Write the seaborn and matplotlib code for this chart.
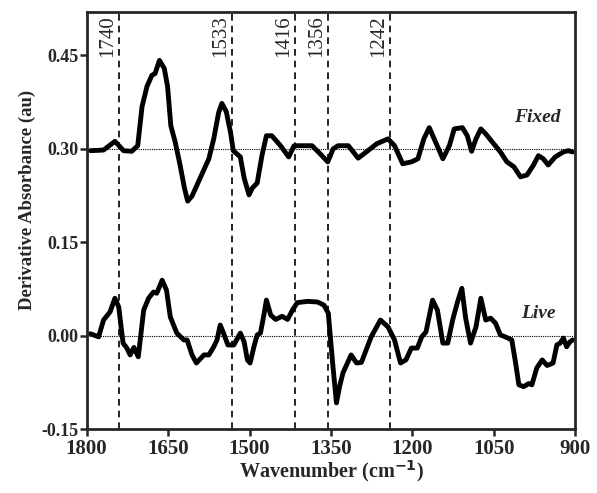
import numpy as np
import pandas as pd
import matplotlib
matplotlib.use("Agg")
import matplotlib.pyplot as plt
import seaborn as sns

# ---------------------------------------------------------
# DATA
# ---------------------------------------------------------
fixed_wn = [1793, 1769, 1748, 1732, 1717, 1706, 1698, 1689, 1680, 1674, 1666, 1657,
            1651, 1645, 1637, 1628, 1620, 1614, 1606, 1591, 1575, 1566, 1557, 1551,
            1543, 1535, 1530, 1517, 1510, 1501, 1495, 1486, 1477, 1469, 1459, 1443,
            1428, 1418, 1406, 1385, 1370, 1356, 1346, 1337, 1318, 1300, 1282, 1266,
            1245, 1233, 1218, 1202, 1190, 1179, 1169, 1160, 1144, 1132, 1123, 1108,
            1099, 1091, 1083, 1074, 1065, 1053, 1038, 1026, 1013, 1001, 989, 977,
            968, 959, 950, 937, 922, 913, 905]
fixed_abs = [0.297, 0.298, 0.312, 0.297, 0.296, 0.305, 0.368, 0.400, 0.418, 0.421, 0.442, 0.429,
             0.400, 0.337, 0.311, 0.274, 0.237, 0.216, 0.224, 0.253, 0.284, 0.316, 0.358, 0.373,
             0.360, 0.326, 0.297, 0.287, 0.253, 0.226, 0.237, 0.245, 0.290, 0.321, 0.321, 0.305,
             0.287, 0.305, 0.305, 0.305, 0.292, 0.279, 0.300, 0.305, 0.305, 0.285, 0.297, 0.308,
             0.316, 0.305, 0.276, 0.279, 0.284, 0.316, 0.334, 0.316, 0.284, 0.305, 0.332, 0.334,
             0.321, 0.296, 0.316, 0.332, 0.324, 0.311, 0.295, 0.279, 0.271, 0.255, 0.258, 0.274,
             0.289, 0.284, 0.274, 0.287, 0.295, 0.297, 0.295]

live_wn = [1793, 1778, 1769, 1757, 1748, 1741, 1733, 1726, 1720, 1713, 1705, 1695,
           1686, 1677, 1671, 1661, 1653, 1646, 1634, 1621, 1615, 1606, 1598, 1584,
           1575, 1566, 1560, 1554, 1548, 1540, 1529, 1517, 1510, 1504, 1499, 1492,
           1486, 1480, 1473, 1469, 1461, 1452, 1440, 1430, 1421, 1412, 1393, 1375,
           1363, 1355, 1347, 1340, 1334, 1328, 1313, 1303, 1294, 1276, 1259, 1245,
           1233, 1222, 1212, 1202, 1191, 1183, 1175, 1163, 1154, 1144, 1135, 1126,
           1117, 1109, 1102, 1093, 1083, 1074, 1065, 1056, 1047, 1038, 1029, 1017,
           1010, 1004, 995, 986, 980, 971, 961, 952, 941, 934, 928, 922, 916, 910, 905]
live_abs = [0.003, -0.002, 0.025, 0.038, 0.060, 0.046, -0.012, -0.020, -0.031, -0.019, -0.034, 0.041,
            0.060, 0.070, 0.068, 0.089, 0.073, 0.030, 0.004, -0.007, -0.007, -0.031, -0.044, -0.031,
            -0.031, -0.018, -0.007, 0.017, 0.004, -0.015, -0.015, 0.004, -0.010, -0.039, -0.044, -0.018,
            0.001, 0.004, 0.036, 0.057, 0.033, 0.026, 0.031, 0.026, 0.041, 0.053, 0.055, 0.054,
            0.049, 0.036, -0.044, -0.108, -0.081, -0.060, -0.031, -0.044, -0.043, -0.002, 0.025, 0.014,
            -0.007, -0.044, -0.039, -0.020, -0.020, -0.002, 0.006, 0.057, 0.041, -0.012, -0.012, 0.025,
            0.054, 0.076, 0.028, -0.012, 0.014, 0.060, 0.025, 0.028, 0.020, 0.001, -0.002, -0.007,
            -0.044, -0.079, -0.082, -0.077, -0.079, -0.052, -0.039, -0.048, -0.044, -0.015, -0.012, -0.004, -0.018, -0.010, -0.007]

peak_positions = [1740, 1533, 1416, 1356, 1242]
baselines = [0.30, 0.00]
y_ticks = [0.45, 0.30, 0.15, 0.00, -0.15]
x_ticks = [1800, 1650, 1500, 1350, 1200, 1050, 900]

df = pd.concat([
    pd.DataFrame({"Wavenumber": fixed_wn, "Absorbance": fixed_abs, "Sample": "Fixed"}),
    pd.DataFrame({"Wavenumber": live_wn, "Absorbance": live_abs, "Sample": "Live"}),
])

# ---------------------------------------------------------
# PLOT
# ---------------------------------------------------------
sns.set_style("ticks")
plt.rcParams["font.family"] = ["Liberation Serif", "DejaVu Serif"]

fig = plt.figure(figsize=(5.97, 4.93), dpi=100)
ax = fig.add_axes([0.1452, 0.1298, 0.8185, 0.8462])

sns.lineplot(data=df, x="Wavenumber", y="Absorbance", units="Sample", estimator=None,
             sort=False, color="black", linewidth=3.5, ax=ax,
             solid_joinstyle="round", solid_capstyle="round")

# dotted baselines + dashed peak markers
for b in baselines:
    ax.axhline(b, color="black", linestyle=(0, (1, 1)), linewidth=0.8, zorder=1)

for p in peak_positions:
    ax.axvline(p, color="black", linestyle=(0, (4, 3)), linewidth=1.2, zorder=1)
    ax.text(p + 3, 0.515, str(p), rotation=90, ha="right", va="top", fontsize=15)

ax.text(970, 0.35, "Fixed", fontsize=14, fontweight="bold", fontstyle="italic", ha="center", va="center")
ax.text(968, 0.036, "Live", fontsize=14, fontweight="bold", fontstyle="italic", ha="center", va="center")

ax.set_xlim(1800, 900)
ax.set_ylim(-0.15, 0.52)
ax.set_xticks(x_ticks)
ax.set_yticks(y_ticks)
ax.set_yticklabels([f"{v:.2f}" for v in y_ticks])
ax.tick_params(axis="x", labelsize=15, width=1.8, length=5, direction="out", pad=2)
ax.tick_params(axis="y", labelsize=13, width=1.8, length=5, direction="out", pad=1)
for lbl in ax.get_xticklabels() + ax.get_yticklabels():
    lbl.set_fontweight("bold")

for s in ax.spines.values():
    s.set_linewidth(2)
    s.set_visible(True)

ax.set_xlabel("Wavenumber (cm$^{\\mathbf{-1}}$)", fontsize=14.5, fontweight="bold")
ax.xaxis.set_label_coords(0.5, -0.07)
ax.set_ylabel("Derivative Absorbance (au)", fontsize=13.5, fontweight="bold")
ax.yaxis.set_label_coords(-0.104, 0.55)
ax.legend_ = None

fig.savefig("out.png", dpi=100)
